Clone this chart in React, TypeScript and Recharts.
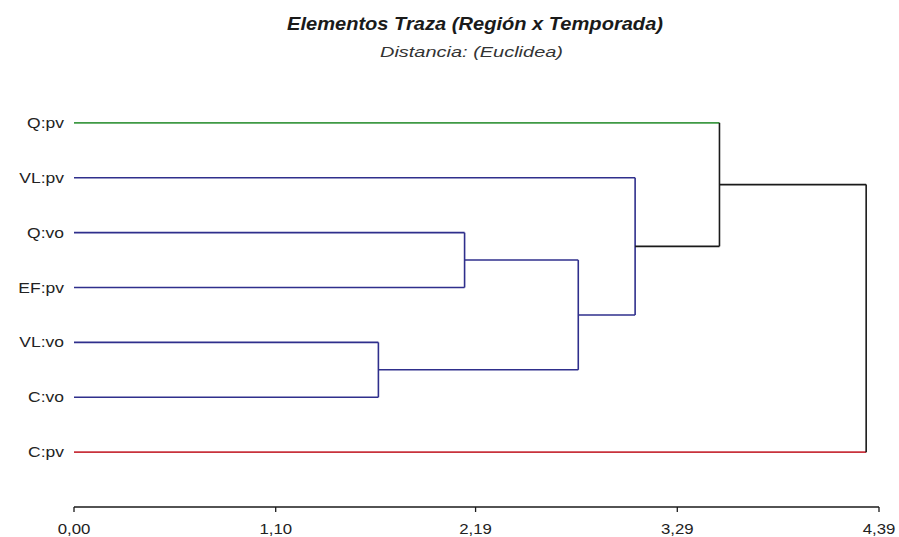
import React from 'react';
import { LineChart, Line, XAxis, YAxis } from 'recharts';

// Leaves (top to bottom)
const leaves = ['Q:pv', 'VL:pv', 'Q:vo', 'EF:pv', 'VL:vo', 'C:vo', 'C:pv'];
const leafColors = ['#3f9a45', '#2f2f8c', '#2f2f8c', '#2f2f8c', '#2f2f8c', '#2f2f8c', '#c8323c'];

// Merges: [childA, childB, distance]; node ids continue after leaves (7, 8, ...)
const mergeA = [4, 2, 8, 1, 0, 11];
const mergeB = [5, 3, 7, 9, 10, 6];
const mergeHeights = [1.66, 2.13, 2.75, 3.06, 3.52, 4.32];
const mergeColors = ['#2f2f8c', '#2f2f8c', '#2f2f8c', '#2f2f8c', '#1a1a1a', '#1a1a1a'];

const xTicks = [0, 1.1, 2.19, 3.29, 4.39];
const xMax = 4.39;

type Seg = { key: string; color: string; pts: { x: number; y: number }[] };

function buildSegments(): Seg[] {
  const nodeX: number[] = leaves.map(() => 0);
  const nodeY: number[] = leaves.map((_, i) => i);
  const segs: Seg[] = [];
  mergeHeights.forEach((h, m) => {
    const a = mergeA[m];
    const b = mergeB[m];
    const c = mergeColors[m];
    [a, b].forEach((ch) => {
      const col = ch < leaves.length ? leafColors[ch] : c;
      segs.push({
        key: `h${m}-${ch}`,
        color: col,
        pts: [
          { x: nodeX[ch], y: nodeY[ch] },
          { x: h, y: nodeY[ch] },
        ],
      });
    });
    segs.push({
      key: `v${m}`,
      color: c,
      pts: [
        { x: h, y: nodeY[a] },
        { x: h, y: nodeY[b] },
      ],
    });
    nodeX.push(h);
    nodeY.push((nodeY[a] + nodeY[b]) / 2);
  });
  return segs;
}

const segments = buildSegments();

const FONT = '"Liberation Sans", Arial, sans-serif';

const YTick = (props: any) => {
  const { x, y, payload } = props;
  return (
    <g transform={`translate(${x},${y})`}>
      <text
        transform="scale(1.25,1)"
        x={0}
        y={0}
        dy="0.36em"
        textAnchor="end"
        fontFamily={FONT}
        fontSize={14}
        fill="#222"
      >
        {leaves[payload.value]}
      </text>
    </g>
  );
};

const XTick = (props: any) => {
  const { x, y, payload } = props;
  return (
    <g transform={`translate(${x},${y})`}>
      <text
        transform="scale(1.2,1)"
        x={0}
        y={0}
        dy="0.71em"
        textAnchor="middle"
        fontFamily={FONT}
        fontSize={14}
        fill="#222"
      >
        {payload.value.toFixed(2).replace('.', ',')}
      </text>
    </g>
  );
};

export default function App() {
  return (
    <div style={{ position: 'absolute', left: 0, top: 0, width: 899, height: 537, background: '#fff' }}>
      <svg
        width={899}
        height={70}
        style={{ position: 'absolute', left: 0, top: 0, pointerEvents: 'none' }}
      >
        <text
          x={475}
          y={30}
          textAnchor="middle"
          fontFamily={FONT}
          fontSize={19}
          fontWeight="bold"
          fontStyle="italic"
          fill="#1a1a1a"
          textLength={376}
          lengthAdjust="spacingAndGlyphs"
        >
          Elementos Traza (Región x Temporada)
        </text>
        <text
          x={471.5}
          y={57}
          textAnchor="middle"
          fontFamily={FONT}
          fontSize={15}
          fontStyle="italic"
          fill="#333"
          textLength={183}
          lengthAdjust="spacingAndGlyphs"
        >
          Distancia: (Euclidea)
        </text>
      </svg>
      <div style={{ position: 'absolute', left: 0, top: 0 }}>
        <LineChart width={899} height={537} margin={{ top: 68, right: 20, bottom: 0, left: 0 }}>
          <XAxis
            type="number"
            dataKey="x"
            domain={[0, xMax]}
            ticks={xTicks}
            allowDataOverflow
            height={30}
            tickSize={5}
            tickMargin={12}
            stroke="#1a1a1a"
            strokeWidth={1.3}
            tick={<XTick />}
            interval={0}
          />
          <YAxis
            type="number"
            dataKey="y"
            domain={[-1, 7]}
            reversed
            ticks={[0, 1, 2, 3, 4, 5, 6]}
            width={74}
            axisLine={false}
            tickLine={false}
            tickSize={0}
            tickMargin={10}
            tick={<YTick />}
            interval={0}
          />
          {segments.map((s) => (
            <Line
              key={s.key}
              data={s.pts}
              dataKey="y"
              type="linear"
              stroke={s.color}
              strokeWidth={1.6}
              dot={false}
              activeDot={false}
              isAnimationActive={false}
            />
          ))}
        </LineChart>
      </div>
    </div>
  );
}
